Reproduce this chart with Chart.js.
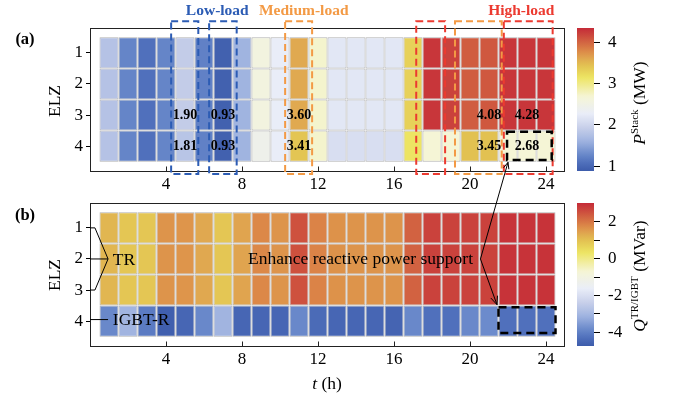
<!DOCTYPE html>
<html><head><meta charset="utf-8">
<script src="https://cdn.jsdelivr.net/npm/chart.js@4.4.1/dist/chart.umd.min.js"></script>
<style>
html,body{margin:0;padding:0;background:#fff;}
#wrap{position:relative;width:675px;height:400px;overflow:hidden;font-family:'Liberation Serif',serif;background:#fff;}
canvas{position:absolute;left:0;top:0;}
.t{position:absolute;white-space:nowrap;color:#000;font-size:17.5px;line-height:1;}
.ctr{transform:translate(-50%,-50%);}
.rot{transform:translate(-50%,-50%) rotate(-90deg);}
sup{font-size:11px;vertical-align:0;position:relative;top:-7px;}
</style></head><body>
<div id="wrap">
<canvas id="cA" width="675" height="400"></canvas>
<canvas id="cbA" width="675" height="400"></canvas>
<canvas id="cbB" width="675" height="400"></canvas>
<canvas id="cB" width="675" height="400"></canvas>
<div class="t ctr" style="left:25px;top:39px;font-weight:bold;font-size:16.5px;">(a)</div>
<div class="t ctr" style="left:25px;top:215px;font-weight:bold;font-size:16.5px;">(b)</div>
<div class="t rot" style="left:55px;top:101px;">ELZ</div>
<div class="t rot" style="left:55px;top:275px;">ELZ</div>
<div class="t ctr" style="left:327px;top:384px;"><i>t</i> (h)</div>
<div class="t rot" style="left:640px;top:103px;"><i>P</i><sup>Stack</sup> (MW)</div>
<div class="t rot" style="left:640px;top:276px;"><i>Q</i><sup>TR/IGBT</sup> (MVar)</div>
</div>
<script>
// ---------------- data ----------------
const hours = [1,2,3,4,5,6,7,8,9,10,11,12,13,14,15,16,17,18,19,20,21,22,23,24];
const elzRows = [1,2,3,4];
const xTicks = [4,8,12,16,20,24];
const yTicks = [1,2,3,4];
// P_stack (MW), panel (a)
const P_ELZ1 = [1.78,1.25,1.09,1.25,1.90,1.22,0.93,1.61,2.58,2.27,3.60,2.72,2.20,2.20,2.20,2.20,3.31,4.28,4.21,4.05,4.08,4.28,4.28,4.28];
const P_ELZ2 = [1.78,1.25,1.09,1.25,1.90,1.22,0.93,1.61,2.58,2.27,3.60,2.72,2.20,2.20,2.20,2.20,3.31,4.28,4.21,4.05,4.08,4.28,4.28,4.28];
const P_ELZ3 = [1.78,1.25,1.09,1.25,1.90,1.22,0.93,1.61,2.58,2.27,3.60,2.72,2.20,2.20,2.20,2.20,3.31,4.28,4.21,4.05,4.08,4.28,4.28,4.28];
const P_ELZ4 = [1.78,1.25,1.09,1.25,1.81,1.22,0.93,1.61,2.44,2.27,3.41,2.72,2.10,2.10,2.10,2.10,3.15,2.68,2.68,3.45,3.45,2.68,2.68,2.68];
// Q TR / IGBT (MVar), panel (b)
const Q_ELZ1 = [1.15,0.90,0.90,1.62,1.60,1.35,0.90,1.40,1.78,1.62,2.50,1.85,1.65,1.62,1.62,1.62,2.28,2.70,2.70,2.70,2.70,2.90,2.90,2.90];
const Q_ELZ2 = [1.15,0.90,0.90,1.62,1.60,1.35,0.90,1.40,1.78,1.62,2.50,1.85,1.65,1.62,1.62,1.62,2.28,2.70,2.70,2.70,2.70,2.90,2.90,2.90];
const Q_ELZ3 = [1.15,0.90,0.90,1.62,1.60,1.35,0.90,1.40,1.78,1.62,2.50,1.85,1.65,1.62,1.62,1.62,2.28,2.70,2.70,2.70,2.70,2.90,2.90,2.90];
const Q_ELZ4 = [-3.85,-3.10,-4.08,-4.66,-4.50,-3.85,-3.10,-4.50,-4.50,-4.50,-3.85,-4.40,-4.50,-4.50,-4.50,-4.55,-3.85,-4.27,-4.27,-3.85,-3.80,-4.27,-4.27,-4.27];
const pRange = [0.88, 4.35];
const qRange = [-4.74, 3.02];
const pTicks = [1,2,3,4];
const qTicks = [-4,-3,-2,-1,0,1,2];
const labelCols = [5,7,11,21,23];
const labelRows = [3,4];

// ---------------- style ----------------
const FONT = "'Liberation Serif', 'Times New Roman', serif";
Chart.defaults.font.family = FONT;
Chart.defaults.font.size = 17;
Chart.defaults.color = '#000';
const cmapStops = [
  [0.00,'#3d5cab'],[0.06,'#5070bc'],[0.11,'#6686c9'],[0.21,'#a0b4e0'],
  [0.30,'#c6cee9'],[0.40,'#e9edf8'],[0.52,'#f5f5d6'],[0.655,'#ede462'],
  [0.74,'#e2c151'],[0.785,'#e0a850'],[0.84,'#dc8848'],[0.915,'#d05c40'],[1.00,'#c52a38']
];
function hex2rgb(h){return [parseInt(h.slice(1,3),16),parseInt(h.slice(3,5),16),parseInt(h.slice(5,7),16)];}
function cmap(t){
  t = Math.max(0, Math.min(1, t));
  for (let i=1;i<cmapStops.length;i++){
    if (t <= cmapStops[i][0]){
      const [t0,c0]=cmapStops[i-1],[t1,c1]=cmapStops[i];
      const f=(t-t0)/(t1-t0), a=hex2rgb(c0), b=hex2rgb(c1);
      return `rgb(${a.map((v,k)=>Math.round(v+(b[k]-v)*f)).join(',')})`;
    }
  }
  return cmapStops[cmapStops.length-1][1];
}
const BLUE='#2c5cb4', ORANGE='#f39a45', RED='#ec3a30';

function rowDatasets(rows, range){
  return rows.map((vals, ri) => ({
    data: hours.map((h,i)=>({x:h, y:[elzRows[ri]-0.5, elzRows[ri]+0.5], v: vals[i]})),
    backgroundColor: ctx => ctx.raw ? cmap((ctx.raw.v-range[0])/(range[1]-range[0])) : '#fff',
    borderColor: '#b2b2b2', borderWidth: 1, borderSkipped: false,
    grouped: false, barPercentage: 1, categoryPercentage: 1, inflateAmount: 0
  }));
}
function heatScales(){
  return {
    x: {type:'linear', min:0, max:25, offset:false,
        afterBuildTicks: s => { s.ticks = xTicks.map(v=>({value:v})); },
        grid:{display:false, drawTicks:false, offset:false}, border:{display:false},
        ticks:{padding:3, maxRotation:0, autoSkip:false, font:{size:17}},
        afterFit: s => { s.height = 29; }},
    y: {type:'linear', reverse:true, min:0.2, max:4.8, offset:false,
        afterBuildTicks: s => { s.ticks = yTicks.map(v=>({value:v})); },
        grid:{display:true, drawOnChartArea:false, drawTicks:true, tickLength:4, color:'#000', lineWidth:1},
        border:{display:false},
        ticks:{padding:3, font:{size:17}},
        afterFit: s => { s.width = 90; }}
  };
}
function P(chart,x,y){return [chart.scales.x.getPixelForValue(x), chart.scales.y.getPixelForValue(y)];}
function frameAndTicks(chart){
  const ctx=chart.ctx, a=chart.chartArea;
  ctx.save();
  ctx.strokeStyle='#222'; ctx.lineWidth=1;
  ctx.strokeRect(Math.round(a.left)+0.5, Math.round(a.top)+0.5, Math.round(a.right-a.left)-1, Math.round(a.bottom-a.top));
  ctx.beginPath();
  xTicks.forEach(v=>{const x=Math.round(chart.scales.x.getPixelForValue(v))+0.5; ctx.moveTo(x,a.bottom); ctx.lineTo(x,a.bottom-4.5);});
  ctx.stroke();
  ctx.restore();
}
function box(chart,x0,x1,y0,y1,color,lw,dash){
  const ctx=chart.ctx; const [a,b]=P(chart,x0,y0); const [c,d]=P(chart,x1,y1);
  ctx.save(); ctx.strokeStyle=color; ctx.lineWidth=lw; ctx.setLineDash(dash);
  ctx.strokeRect(Math.min(a,c),Math.min(b,d),Math.abs(c-a),Math.abs(d-b)); ctx.restore();
}
function arrowHead(ctx,x1,y1,x2,y2,size){
  const ang=Math.atan2(y2-y1,x2-x1);
  ctx.beginPath();
  ctx.moveTo(x2-size*Math.cos(ang-0.4), y2-size*Math.sin(ang-0.4));
  ctx.lineTo(x2,y2);
  ctx.lineTo(x2-size*Math.cos(ang+0.4), y2-size*Math.sin(ang+0.4));
  ctx.stroke();
}

// ---------------- panel (a) ----------------
const loadBoxes = [
  [4.27,5.70,BLUE],[6.27,7.72,BLUE],[10.27,11.69,ORANGE],
  [17.17,18.69,RED],[19.21,21.67,ORANGE],[21.78,24.35,RED]
];
const loadLabels = [['Low-load',6.7,BLUE],['Medium-load',11.25,ORANGE],['High-load',22.7,RED]];
const panelA = {
  id:'panelA',
  afterDraw(chart){
    frameAndTicks(chart);
    const ctx=chart.ctx;
    loadBoxes.forEach(b=>box(chart,b[0],b[1],-0.02,4.9,b[2],2,[7,4]));
    box(chart,21.95,24.3,3.54,4.45,'#000',2.5,[8,5]);
    ctx.save();
    ctx.font=`bold 14px ${FONT}`; ctx.textAlign='center'; ctx.textBaseline='middle'; ctx.fillStyle='#000';
    const rowsP=[P_ELZ1,P_ELZ2,P_ELZ3,P_ELZ4];
    labelCols.forEach(c=>labelRows.forEach(r=>{
      const [x,y]=P(chart,c,r); ctx.fillText(rowsP[r-1][c-1].toFixed(2),x,y+0.5);
    }));
    ctx.font=`bold 15.5px ${FONT}`;
    loadLabels.forEach(l=>{const x=chart.scales.x.getPixelForValue(l[1]); ctx.fillStyle=l[2]; ctx.fillText(l[0],x,11);});
    ctx.restore();
  }
};
const chartA = new Chart(document.getElementById('cA'), {
  type:'bar',
  data:{datasets: rowDatasets([P_ELZ1,P_ELZ2,P_ELZ3,P_ELZ4], pRange)},
  options:{responsive:false, animation:false, events:[],
    layout:{padding:{left:0,right:110,top:28,bottom:200}},
    plugins:{legend:{display:false}, tooltip:{enabled:false}},
    scales: heatScales()},
  plugins:[panelA]
});

// ---------------- colorbars ----------------
function colorbar(id, range, ticks, top, bottom, labelFn){
  const grad = {
    id:'grad'+id,
    beforeDatasetsDraw(chart){
      const ctx=chart.ctx, a=chart.chartArea, y=chart.scales.y;
      const g=ctx.createLinearGradient(0,y.getPixelForValue(range[0]),0,y.getPixelForValue(range[1]));
      for(let i=0;i<=40;i++){const t=i/40; g.addColorStop(t,cmap(t));}
      ctx.save(); ctx.fillStyle=g; ctx.fillRect(a.left,a.top,a.right-a.left,a.bottom-a.top); ctx.restore();
    }
  };
  return new Chart(document.getElementById(id), {
    type:'bar', data:{datasets:[]},
    options:{responsive:false, animation:false, events:[],
      layout:{padding:{left:577,right:41,top:top,bottom:400-bottom}},
      plugins:{legend:{display:false}, tooltip:{enabled:false}},
      scales:{
        x:{type:'linear', display:false, min:0, max:1},
        y:{type:'linear', position:'right', min:range[0], max:range[1],
           afterBuildTicks: s => { s.ticks = ticks.map(v=>({value:v})); },
           grid:{display:true, drawOnChartArea:false, drawTicks:true, tickLength:6, color:'#000'},
           border:{display:false},
           ticks:{padding:8, font:{size:17}, callback: labelFn},
           afterFit: s => { s.width = 40; }}
      }},
    plugins:[grad]
  });
}
colorbar('cbA', pRange, pTicks, 28, 171, v=>String(v));
colorbar('cbB', qRange, qTicks, 203, 346, v=>(v%2===0?String(v):''));

// ---------------- panel (b) ----------------
const panelB = {
  id:'panelB',
  afterDraw(chart){
    frameAndTicks(chart);
    const ctx=chart.ctx;
    box(chart,21.5,24.5,3.55,4.38,'#000',2.5,[8,5]);
    ctx.save();
    ctx.strokeStyle='#000'; ctx.lineWidth=1;
    ctx.beginPath();
    let p=P(chart,0,1); ctx.moveTo(p[0],p[1]);
    p=P(chart,0.26,1); ctx.lineTo(p[0],p[1]);
    p=P(chart,0.95,2); ctx.lineTo(p[0],p[1]);
    p=P(chart,0.26,3); ctx.lineTo(p[0],p[1]);
    p=P(chart,0,3); ctx.lineTo(p[0],p[1]);
    p=P(chart,0,2); ctx.moveTo(p[0],p[1]);
    p=P(chart,0.95,2); ctx.lineTo(p[0],p[1]);
    p=P(chart,0,3.95); ctx.moveTo(p[0],p[1]);
    p=P(chart,0.95,3.95); ctx.lineTo(p[0],p[1]);
    ctx.stroke();
    ctx.font=`17.5px ${FONT}`; ctx.fillStyle='#000'; ctx.textAlign='left'; ctx.textBaseline='middle';
    p=P(chart,1.2,2); ctx.fillText('TR',p[0],p[1]+1);
    p=P(chart,1.2,3.95); ctx.fillText('IGBT-R',p[0],p[1]+1);
    p=P(chart,8.32,2); ctx.fillText('Enhance reactive power support',p[0],p[1]);
    const v=P(chart,20.55,2.0);
    const topEnd=P(chartA,22.0,4.52);
    const botEnd=P(chart,21.42,3.47);
    ctx.beginPath(); ctx.moveTo(v[0],v[1]); ctx.lineTo(topEnd[0],topEnd[1]); ctx.stroke();
    arrowHead(ctx,v[0],v[1],topEnd[0],topEnd[1],7);
    ctx.beginPath(); ctx.moveTo(v[0],v[1]); ctx.lineTo(botEnd[0],botEnd[1]); ctx.stroke();
    arrowHead(ctx,v[0],v[1],botEnd[0],botEnd[1],9);
    ctx.restore();
  }
};
const chartB = new Chart(document.getElementById('cB'), {
  type:'bar',
  data:{datasets: rowDatasets([Q_ELZ1,Q_ELZ2,Q_ELZ3,Q_ELZ4], qRange)},
  options:{responsive:false, animation:false, events:[],
    layout:{padding:{left:0,right:110,top:203,bottom:25}},
    plugins:{legend:{display:false}, tooltip:{enabled:false}},
    scales: heatScales()},
  plugins:[panelB]
});
</script>
</body></html>
